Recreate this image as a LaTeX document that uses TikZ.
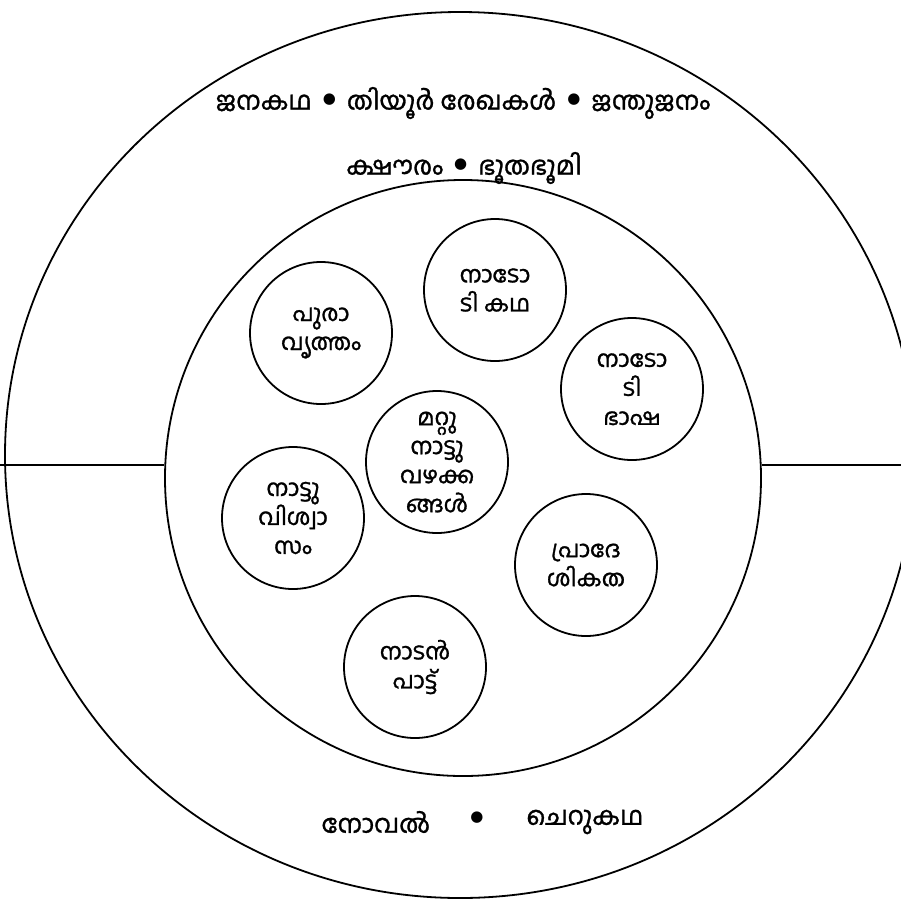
\documentclass[tikz,border=0pt]{standalone}
\usepackage{fontspec}
\newfontfamily\ml[Script=Malayalam, FakeBold=1.2]{Hind Kochi}
\newfontfamily\dv{DejaVu Sans}
\usetikzlibrary{calc}
\tikzset{
  ring/.style={draw=black, line width=1.8pt},
  small/.style={circle, draw=black, line width=1.8pt, minimum size=142pt, inner sep=0pt, align=center, font=\ml\fontsize{23}{29}\selectfont},
  label/.style={inner sep=0pt, font=\ml\fontsize{25.5}{30}\selectfont},
}
\newcommand{\bul}{\raisebox{6pt}{\dv\fontsize{15}{16}\selectfont ●}}
\newcommand{\gap}{\hspace{11pt}}
\begin{document}
\begin{tikzpicture}[x=1pt,y=-1pt]
\useasboundingbox[fill=white] (0,0) rectangle (901,900);
% outer ellipse
\draw[ring] (460,455) ellipse [x radius=455, y radius=443];
% inner circle
\node[circle, ring, minimum size=596pt, inner sep=0pt] (inner) at (463,478) {};
\coordinate (L) at (0,465);
\coordinate (R) at (901,465);
\draw[ring] (L) -- (inner.west |- L);
\draw[ring] (inner.east |- R) -- (R);
% labels
\node[label] (t1) at (463,103) {ജനകഥ\gap\bul\gap തിയൂർ രേഖകൾ\gap\bul\gap ജന്തുജനം};
\node[label] (t2) at (464,168) {ക്ഷൗരം\gap\bul\gap ഭൂതഭൂമി};
\node[label] (b1) at (376,822) {നോവൽ};
\node[label] (b2) at (477,820) {\bul};
\node[label] (b3) at (585,822) {ചെറുകഥ};
% small circles
\node[small] (c1) at (321,333) {പുരാ\\വൃത്തം};
\node[small] (c2) at (495,290) {നാടോ\\ടി കഥ};
\node[small] (c3) at (632,389) {നാടോ\\ടി\\ഭാഷ};
\node[small] (c4) at (437,462) {മറ്റു\\നാട്ടു\\വഴക്ക\\ങ്ങൾ};
\node[small] (c5) at (293,518) {നാട്ടു\\വിശ്വാ\\സം};
\node[small] (c6) at (586,565) {പ്രാദേ\\ശികത};
\node[small] (c7) at (415,667) {നാടൻ\\പാട്ട്};
\end{tikzpicture}
\end{document}
